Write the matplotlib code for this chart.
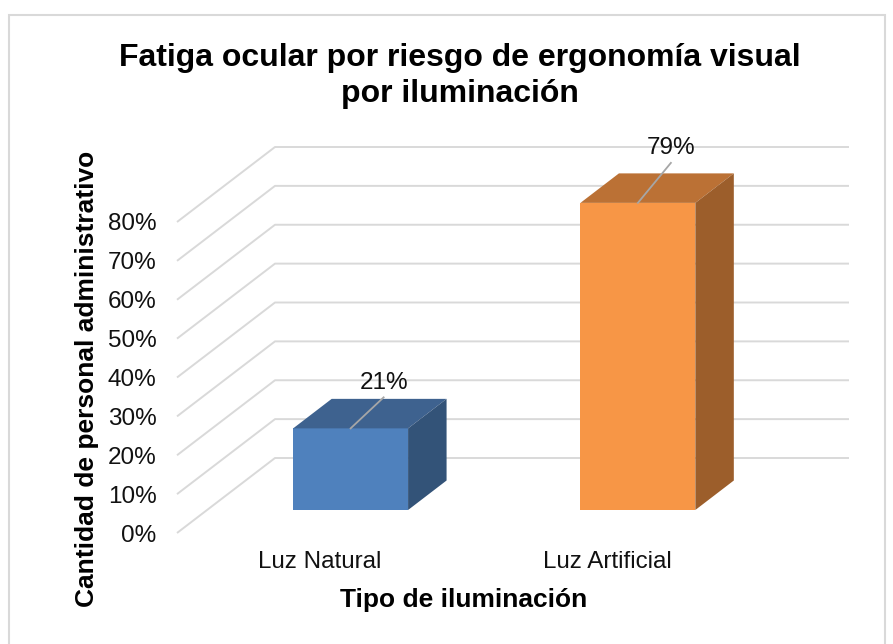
import matplotlib
matplotlib.use("Agg")
import matplotlib.pyplot as plt
from matplotlib.patches import Polygon, Rectangle

categories = ["Luz Natural", "Luz Artificial"]
values = [21, 79]
ticks = [0, 10, 20, 30, 40, 50, 60, 70, 80]

title = "Fatiga ocular por riesgo de ergonomía visual\npor iluminación"
xlabel = "Tipo de iluminación"
ylabel = "Cantidad de personal administrativo"

front_colors = ["#4F81BD", "#F79646"]
top_colors = ["#3E628F", "#BB7135"]
side_colors = ["#335378", "#9C5E2B"]
grid_color = "#D9D9D9"

W, H = 893, 644
plt.rcParams["font.family"] = ["Liberation Sans", "DejaVu Sans"]

fig = plt.figure(figsize=(W / 100, H / 100), dpi=100)

# frame of the chart area
fig.add_artist(Rectangle((9 / W, -0.01), (885 - 9) / W, 1.01 - 15 / H, transform=fig.transFigure,
                         fill=False, edgecolor=grid_color, linewidth=1.5))

# axes sits on the plane of the bars' front faces
left, right, bottom, top = 207, 781.5, 510, 199
ax = fig.add_axes([left / W, 1 - bottom / H, (right - left) / W, (bottom - top) / H])
ax.set_xlim(-0.5, 1.5)
ax.set_ylim(0, 80)
ax.axis("off")

px_x = 2 / (right - left)    # data units per pixel
px_y = 80 / (bottom - top)


def dx(p):
    return p * px_x


def dy(p):
    return p * px_y


# walls: line from the front edge to the back wall, then along the back wall
for t in ticks:
    xs = [-0.5 + dx(-30), -0.5 + dx(68), 1.5 + dx(67.5)]
    ys = [t + dy(-23), t + dy(52), t + dy(52)]
    ax.plot(xs, ys, color=grid_color, lw=1.4, clip_on=False, zorder=1, solid_capstyle="butt")
    ax.text(-0.5 + dx(-50.5), t + dy(-25.5), f"{t}%", ha="right", va="center", fontsize=17.5, color="#111111")

# 3d bars
bar_w = 115 / 287.5
depth_x, depth_y = dx(38.5), dy(29.5)
bars = ax.bar(range(len(categories)), values, width=bar_w, color=front_colors, zorder=3)
for i, v in enumerate(values):
    x0, x1 = i - bar_w / 2, i + bar_w / 2
    ax.add_patch(Polygon([(x0, v), (x1, v), (x1 + depth_x, v + depth_y), (x0 + depth_x, v + depth_y)],
                         facecolor=top_colors[i], edgecolor="none", clip_on=False, zorder=3))
    ax.add_patch(Polygon([(x1, 0), (x1 + depth_x, depth_y), (x1 + depth_x, v + depth_y), (x1, v)],
                         facecolor=side_colors[i], edgecolor="none", clip_on=False, zorder=3))
    # leader line and value
    ax.plot([i, i + dx(33)], [v, v + dy(31 + 9 * (v > 50))], color="#A6A6A6", lw=1.3, clip_on=False, zorder=4)
    ax.text(i + dx(33), v + dy(45.5 + 9.5 * (v > 50)), f"{v}%", ha="center", va="center", fontsize=17.5,
            color="#111111", zorder=4, clip_on=False)
    ax.text(i + dx(-30.5), dy(-52.5), categories[i], ha="center", va="center", fontsize=17.4, color="#111111")

fig.text(459.5 / W, 1 - 76 / H, title, ha="center", va="center", fontsize=23, fontweight="bold",
         color="black", linespacing=1.22)
fig.text(464 / W, 1 - 600 / H, xlabel, ha="center", va="center", fontsize=19, fontweight="bold", color="black")
fig.text(87 / W, 1 - 379 / H, ylabel, ha="center", va="center", rotation=90, fontsize=19, fontweight="bold",
         color="black")

fig.savefig("out.png", dpi=100)
